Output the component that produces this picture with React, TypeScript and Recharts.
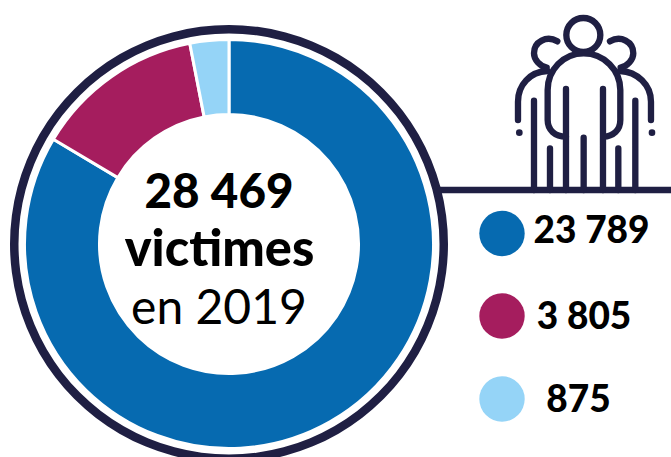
import { Cell, Pie, PieChart } from "recharts";

const categories = ["a", "b", "c"];
const victims = [23789, 3805, 875];
const colors = ["#066ab0", "#a51d5e", "#95d4f7"];
const total = 28469;
const legendY = [243, 329, 412];
const legendX = [591.5, 584, 578.5];
const dotY = [233.5, 316, 399];

const navy = "#1f1f43";
const font = "Lato, 'Noto Sans', sans-serif";

const slices = categories.map((name, i) => ({ name, value: victims[i] }));
const ring = [{ name: "ring", value: total }];

const formatFr = (n: number) => n.toString().replace(/\B(?=(\d{3})+$)/g, " ");

function PeopleIcon() {
  return (
    <g
      transform="translate(440 0) scale(0.3333)"
      fill="none"
      stroke={navy}
      strokeWidth={19}
      strokeLinecap="round"
    >
      <circle cx={430} cy={105} r={51} />
      <path d="M352 124 C320 105 282 125 282 160 C282 180 300 198 320 203" />
      <path d="M510 124 C542 105 580 125 580 160 C580 180 562 198 542 203" />
      <path d="M378 410 C345 410 323 390 323 360 L323 270 C323 210 370 160 431 160 C492 160 541 210 541 270 L541 360 C541 390 520 410 490 410" />
      <path d="M322 213 C270 215 234 255 234 305 L234 360" />
      <path d="M540 213 C592 215 633 255 633 305 L633 360" />
      <path d="M282 302 V570 M330 445 V570 M378 267 V570 M431 413 V570 M489 267 V570 M535 445 V570 M586 302 V570" />
      <circle cx={238} cy={398} r={10} fill={navy} stroke="none" />
      <circle cx={636} cy={398} r={10} fill={navy} stroke="none" />
    </g>
  );
}

export default function App() {
  return (
    <div style={{ position: "absolute", left: 0, top: 0, width: 671, height: 457, overflow: "hidden" }}>
      <PieChart width={671} height={457} margin={{ top: 0, right: 0, bottom: 0, left: 0 }}>
        <Pie
          data={ring}
          dataKey="value"
          cx={229}
          cy={244}
          innerRadius={210.5}
          outerRadius={219}
          startAngle={90}
          endAngle={-270}
          fill={navy}
          stroke="none"
          isAnimationActive={false}
        />
        <Pie
          data={slices}
          dataKey="value"
          cx={229}
          cy={244}
          innerRadius={129.5}
          outerRadius={204.5}
          startAngle={90}
          endAngle={-270}
          stroke="#ffffff"
          strokeWidth={3}
          isAnimationActive={false}
        >
          {slices.map((s, i) => (
            <Cell key={s.name} fill={colors[i]} />
          ))}
        </Pie>

        <line x1={440} x2={671} y1={190} y2={190} stroke={navy} strokeWidth={6.5} />
        <PeopleIcon />

        <text x={219} y={208} textAnchor="middle" fontFamily={font} fontSize={47.5} fontWeight={900} fill="#000">
          {formatFr(total)}
        </text>
        <text x={219.5} y={266} textAnchor="middle" fontFamily={font} fontSize={50.5} fontWeight={900} fill="#000">
          victimes
        </text>
        <text x={219} y={324} textAnchor="middle" fontFamily={font} fontSize={48} fontWeight={400} fill="#000">
          en 2019
        </text>

        {victims.map((v, i) => (
          <g key={categories[i]}>
            <circle cx={502} cy={dotY[i]} r={22.7} fill={colors[i]} />
            <text x={legendX[i]} y={legendY[i]} textAnchor="middle" fontFamily={font} fontSize={37} fontWeight={900} fill="#000">
              {formatFr(v)}
            </text>
          </g>
        ))}
      </PieChart>
    </div>
  );
}
